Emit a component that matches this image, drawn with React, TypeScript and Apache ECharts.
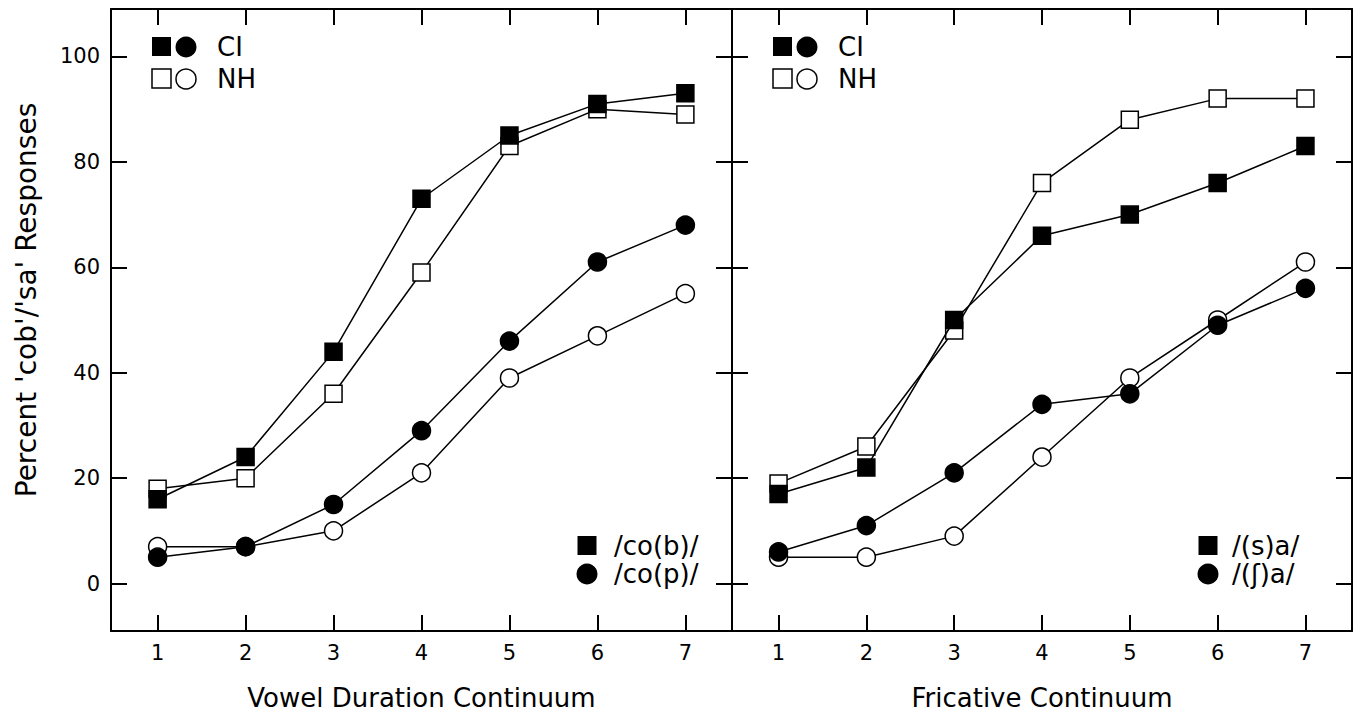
import React, { useEffect, useRef } from "react";
import * as echarts from "echarts";

const xCats = [1, 2, 3, 4, 5, 6, 7];
const yTicks = [0, 20, 40, 60, 80, 100];

// Vowel Duration Continuum (left panel)
const vowelCISquare = [16, 24, 44, 73, 85, 91, 93];
const vowelNHSquare = [18, 20, 36, 59, 83, 90, 89];
const vowelCICircle = [5, 7, 15, 29, 46, 61, 68];
const vowelNHCircle = [7, 7, 10, 21, 39, 47, 55];

// Fricative Continuum (right panel)
const fricCISquare = [17, 22, 50, 66, 70, 76, 83];
const fricNHSquare = [19, 26, 48, 76, 88, 92, 92];
const fricCICircle = [6, 11, 21, 34, 36, 49, 56];
const fricNHCircle = [5, 5, 9, 24, 39, 50, 61];

const xTitles = ["Vowel Duration Continuum", "Fricative Continuum"];
const yTitle = "Percent 'cob'/'sa' Responses";
const groupLabels = ["CI", "NH"];
const vowelLabels = ["/co(b)/", "/co(p)/"];
const fricLabels = ["/(s)a/", "/(ʃ)a/"];

const FONT = "DejaVu Sans";
const BLACK = "#000";

function tickCfg() {
  return { show: true, inside: true, length: 16, lineStyle: { color: BLACK, width: 2 } };
}
function lineCfg() {
  return { show: true, onZero: false, lineStyle: { color: BLACK, width: 2 } };
}

function lineSeries(vals: number[], symbol: string, filled: boolean, gi: number) {
  return {
    type: "line",
    xAxisIndex: gi * 2,
    yAxisIndex: gi * 2,
    data: xCats.map((x, i) => [x, vals[i]]),
    symbol,
    symbolSize: symbol === "rect" ? 17 : 18,
    showAllSymbol: true,
    lineStyle: { color: BLACK, width: 1.5 },
    itemStyle: { color: filled ? BLACK : "#fff", borderColor: BLACK, borderWidth: 1.5 },
    z: filled ? 4 : 3,
    silent: true,
  };
}

export default function App() {
  const ref = useRef<HTMLDivElement>(null);
  useEffect(() => {
    if (!ref.current) return;
    const chart = echarts.init(ref.current, undefined, { renderer: "svg" });
    const grids = [
      { left: 111, top: 9, width: 621, height: 622 },
      { left: 732, top: 9, width: 620, height: 622 },
    ];
    const xAxes: any[] = [];
    const yAxes: any[] = [];
    [0, 1].forEach((gi) => {
      xAxes.push({
        type: "value",
        gridIndex: gi,
        position: "bottom",
        min: 0.47,
        max: 7.53,
        axisLine: lineCfg(),
        axisTick: { ...tickCfg(), customValues: xCats },
        axisLabel: { show: true, customValues: xCats, fontSize: 21, color: BLACK, fontFamily: FONT, margin: 11 },
        splitLine: { show: false },
        name: xTitles[gi],
        nameLocation: "middle",
        nameGap: 54,
        nameTextStyle: { fontSize: 26, color: BLACK, fontFamily: FONT },
      });
      xAxes.push({
        type: "value",
        gridIndex: gi,
        position: "top",
        min: 0.47,
        max: 7.53,
        axisLine: lineCfg(),
        axisTick: { ...tickCfg(), customValues: xCats },
        axisLabel: { show: false },
        splitLine: { show: false },
      });
      yAxes.push({
        type: "value",
        gridIndex: gi,
        position: "left",
        min: -9,
        max: 109,
        axisLine: lineCfg(),
        axisTick: { ...tickCfg(), customValues: yTicks },
        axisLabel: { show: gi === 0, customValues: yTicks, fontSize: 21, color: BLACK, fontFamily: FONT, margin: 11 },
        splitLine: { show: false },
      });
      yAxes.push({
        type: "value",
        gridIndex: gi,
        position: "right",
        min: -9,
        max: 109,
        axisLine: lineCfg(),
        axisTick: { ...tickCfg(), customValues: yTicks },
        axisLabel: { show: false },
        splitLine: { show: false },
      });
    });

    const series = [
      lineSeries(vowelNHSquare, "rect", false, 0),
      lineSeries(vowelNHCircle, "circle", false, 0),
      lineSeries(vowelCISquare, "rect", true, 0),
      lineSeries(vowelCICircle, "circle", true, 0),
      lineSeries(fricNHSquare, "rect", false, 1),
      lineSeries(fricNHCircle, "circle", false, 1),
      lineSeries(fricCISquare, "rect", true, 1),
      lineSeries(fricCICircle, "circle", true, 1),
    ];

    const graphics: any[] = [
      {
        type: "text",
        x: 26,
        y: 300,
        rotation: Math.PI / 2,
        style: { text: yTitle, fontSize: 28, fontFamily: FONT, fill: BLACK, align: "center", verticalAlign: "middle" },
      },
    ];
    [0, 621].forEach((dx) => {
      graphics.push(
        { type: "rect", shape: { x: 152 + dx, y: 37, width: 19, height: 19 }, style: { fill: BLACK } },
        { type: "circle", shape: { cx: 186 + dx, cy: 47, r: 10.5 }, style: { fill: BLACK } },
        { type: "text", x: 217 + dx, y: 47, style: { text: groupLabels[0], fontSize: 26, fontFamily: FONT, fill: BLACK, verticalAlign: "middle" } },
        { type: "rect", shape: { x: 152 + dx, y: 69, width: 19, height: 19 }, style: { fill: "#fff", stroke: BLACK, lineWidth: 1.5 } },
        { type: "circle", shape: { cx: 186 + dx, cy: 79, r: 10 }, style: { fill: "#fff", stroke: BLACK, lineWidth: 1.5 } },
        { type: "text", x: 217 + dx, y: 79, style: { text: groupLabels[1], fontSize: 26, fontFamily: FONT, fill: BLACK, verticalAlign: "middle" } }
      );
    });
    const bl = [
      { sx: 587, tx: 614, labels: vowelLabels },
      { sx: 1208, tx: 1232, labels: fricLabels },
    ];
    bl.forEach((b) => {
      graphics.push(
        { type: "rect", shape: { x: b.sx - 9.5, y: 536, width: 19, height: 19 }, style: { fill: BLACK } },
        { type: "circle", shape: { cx: b.sx, cy: 574, r: 10.5 }, style: { fill: BLACK } },
        { type: "text", x: b.tx, y: 546, style: { text: b.labels[0], fontSize: 26, fontFamily: FONT, fill: BLACK, verticalAlign: "middle" } },
        { type: "text", x: b.tx, y: 574, style: { text: b.labels[1], fontSize: 26, fontFamily: FONT, fill: BLACK, verticalAlign: "middle" } }
      );
    });

    chart.setOption({
      animation: false,
      backgroundColor: "#fff",
      textStyle: { fontFamily: FONT },
      grid: grids,
      xAxis: xAxes,
      yAxis: yAxes,
      series,
      graphic: graphics,
    });
    return () => chart.dispose();
  }, []);
  return <div ref={ref} style={{ position: "fixed", left: 0, top: 0, width: 1362, height: 719 }} />;
}
